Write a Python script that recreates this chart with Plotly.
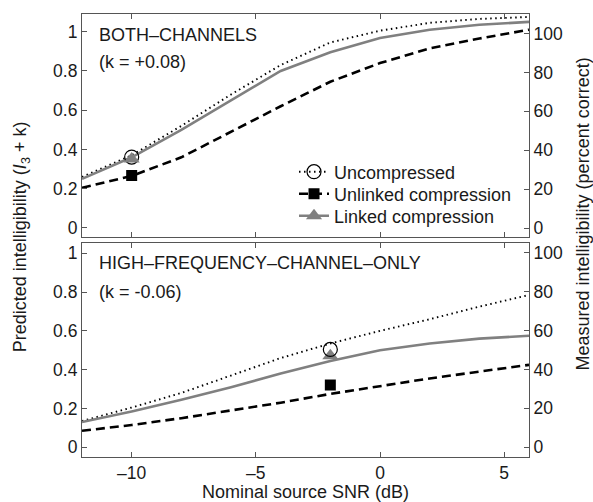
import plotly.graph_objects as go

# ---------------- data ----------------
snr = [-12, -10, -8, -6, -4, -2, 0, 2, 4, 6]

# BOTH-CHANNELS predicted (I3 + k)
both_uncomp = [0.26, 0.37, 0.52, 0.68, 0.83, 0.945, 1.005, 1.045, 1.065, 1.075]
both_unlinked = [0.205, 0.265, 0.36, 0.49, 0.62, 0.745, 0.84, 0.915, 0.965, 1.01]
both_linked = [0.25, 0.36, 0.50, 0.65, 0.80, 0.895, 0.968, 1.01, 1.035, 1.05]

# HIGH-FREQUENCY-CHANNEL-ONLY predicted (I3 + k)
hf_uncomp = [0.135, 0.205, 0.28, 0.37, 0.46, 0.535, 0.60, 0.66, 0.725, 0.785]
hf_unlinked = [0.085, 0.115, 0.15, 0.19, 0.23, 0.275, 0.315, 0.355, 0.39, 0.425]
hf_linked = [0.13, 0.185, 0.245, 0.31, 0.38, 0.445, 0.50, 0.535, 0.56, 0.575]

# measured (percent correct)
meas_snr_both = [-10]
meas_both_uncomp = [36.5]
meas_both_unlinked = [27]
meas_both_linked = [35.5]

meas_snr_hf = [-2]
meas_hf_uncomp = [50.3]
meas_hf_unlinked = [32]
meas_hf_linked = [47]

x_tickvals = [-10, -5, 0, 5]
x_ticktext = ["\u201310", "\u20135", "0", "5"]
yl_tickvals = [0, 0.2, 0.4, 0.6, 0.8, 1]
yl_ticktext = ["0", "0.2", "0.4", "0.6", "0.8", "1"]
yr_tickvals = [0, 20, 40, 60, 80, 100]

series_names = ["Uncompressed", "Unlinked compression", "Linked compression"]

# ---------------- styles ----------------
FONT = "Liberation Sans, Arial, Helvetica, sans-serif"
AX = "#555555"
TXT = "#1a1a1a"
GRAY = "#808080"

line_styles = [
    dict(color="black", width=1.9, dash="1.5px,3.5px"),
    dict(color="black", width=2.6, dash="9px,5px"),
    dict(color=GRAY, width=2.6),
]
marker_styles = [
    dict(symbol="circle-open", size=14, color="black", line=dict(width=1.2, color="black")),
    dict(symbol="square", size=11, color="black", line=dict(width=0)),
    dict(symbol="triangle-up", size=14, color=GRAY, line=dict(width=0)),
]

fig = go.Figure()

# top panel curves
for ys, ls in zip([both_uncomp, both_unlinked, both_linked], line_styles):
    fig.add_trace(go.Scatter(x=snr, y=ys, mode="lines", line=ls, xaxis="x2", yaxis="y3",
                             showlegend=False, hoverinfo="skip"))
# bottom panel curves
for ys, ls in zip([hf_uncomp, hf_unlinked, hf_linked], line_styles):
    fig.add_trace(go.Scatter(x=snr, y=ys, mode="lines", line=ls, xaxis="x", yaxis="y",
                             showlegend=False, hoverinfo="skip"))

# measured markers: top (triangle drawn over circle)
for ys, ms in [(meas_both_uncomp, marker_styles[0]), (meas_both_unlinked, marker_styles[1]),
               (meas_both_linked, marker_styles[2])]:
    fig.add_trace(go.Scatter(x=meas_snr_both, y=ys, mode="markers", marker=ms,
                             xaxis="x2", yaxis="y4", showlegend=False))
# bottom
for ys, ms in [(meas_hf_unlinked, marker_styles[1]), (meas_hf_linked, marker_styles[2]),
               (meas_hf_uncomp, marker_styles[0])]:
    fig.add_trace(go.Scatter(x=meas_snr_hf, y=ys, mode="markers", marker=ms,
                             xaxis="x", yaxis="y2", showlegend=False))

# legend entries (line + marker), one legend per row for exact spacing
legend_ids = ["legend", "legend2", "legend3"]
for name, ls, ms, lid in zip(series_names, line_styles, marker_styles, legend_ids):
    fig.add_trace(go.Scatter(x=[None], y=[None], mode="lines+markers", name=name,
                             line=ls, marker=ms, xaxis="x2", yaxis="y3", showlegend=True,
                             legend=lid))

common_x = dict(range=[-12, 6], tickvals=x_tickvals, ticktext=x_ticktext, ticks="inside",
                ticklen=5, tickcolor=AX, showline=True, linecolor=AX, linewidth=1.2,
                mirror="ticks", showgrid=False, zeroline=False, automargin=False,
                tickfont=dict(family=FONT, size=17.5, color=TXT))
common_y = dict(ticks="inside", ticklen=5, tickcolor=AX, showline=True, linecolor=AX,
                linewidth=1.2, showgrid=False, zeroline=False, automargin=False,
                tickfont=dict(family=FONT, size=17.5, color=TXT))

top_dom = [0.4966, 1.0]
bot_dom = [0.0, 0.4831]

leg_common = dict(x=0.4743, xanchor="left", yanchor="middle", bgcolor="rgba(0,0,0,0)",
                  borderwidth=0, font=dict(family=FONT, size=18, color=TXT))

fig.update_layout(
    width=593, height=502,
    margin=dict(l=82, r=64, t=14, b=45, autoexpand=False),
    paper_bgcolor="white", plot_bgcolor="white",
    font=dict(family=FONT, size=18, color=TXT),
    xaxis=dict(**common_x, anchor="y", domain=[0, 1],
               title=dict(text="Nominal source SNR (dB)", standoff=0,
                          font=dict(family=FONT, size=18, color=TXT))),
    xaxis2=dict(**common_x, anchor="y3", domain=[0, 1], matches="x", showticklabels=False),
    yaxis=dict(**common_y, anchor="x", domain=bot_dom, range=[-0.05, 1.053],
               tickvals=yl_tickvals, ticktext=yl_ticktext),
    yaxis2=dict(**common_y, anchor="x", overlaying="y", side="right", range=[-5, 105],
                tickvals=yr_tickvals),
    yaxis3=dict(**common_y, anchor="x2", domain=top_dom, range=[-0.046, 1.09],
                tickvals=yl_tickvals, ticktext=yl_ticktext),
    yaxis4=dict(**common_y, anchor="x2", overlaying="y3", side="right", range=[-4.6, 110],
                tickvals=yr_tickvals),
    legend=dict(**leg_common, y=0.6433),
    legend2=dict(**leg_common, y=0.5937),
    legend3=dict(**leg_common, y=0.5440),
    annotations=[
        dict(text="BOTH\u2013CHANNELS", x=-11.4, y=0.985, xref="x2", yref="y3",
             xanchor="left", yanchor="middle", showarrow=False,
             font=dict(family=FONT, size=18, color=TXT)),
        dict(text="(k = +0.08)", x=-11.4, y=0.847, xref="x2", yref="y3",
             xanchor="left", yanchor="middle", showarrow=False,
             font=dict(family=FONT, size=18, color=TXT)),
        dict(text="HIGH\u2013FREQUENCY\u2013CHANNEL\u2013ONLY", x=-11.4, y=0.95, xref="x", yref="y",
             xanchor="left", yanchor="middle", showarrow=False,
             font=dict(family=FONT, size=18, color=TXT)),
        dict(text="(k = -0.06)", x=-11.4, y=0.80, xref="x", yref="y",
             xanchor="left", yanchor="middle", showarrow=False,
             font=dict(family=FONT, size=18, color=TXT)),
        dict(text="Predicted intelligibility (<i>I</i><sub>3</sub> + k)", textangle=-90,
             x=-0.136, y=0.4966, xref="paper", yref="paper", xanchor="center", yanchor="middle",
             showarrow=False, font=dict(family=FONT, size=18, color=TXT)),
        dict(text="Measured intelligibility (percent correct)", textangle=-90,
             x=1.123, y=0.5497, xref="paper", yref="paper", xanchor="center", yanchor="middle",
             showarrow=False, font=dict(family=FONT, size=18, color=TXT)),
    ],
)

fig.write_html("out.html", config={"displayModeBar": False},
               post_script="document.body.style.margin='0';document.body.style.overflow='hidden';")
